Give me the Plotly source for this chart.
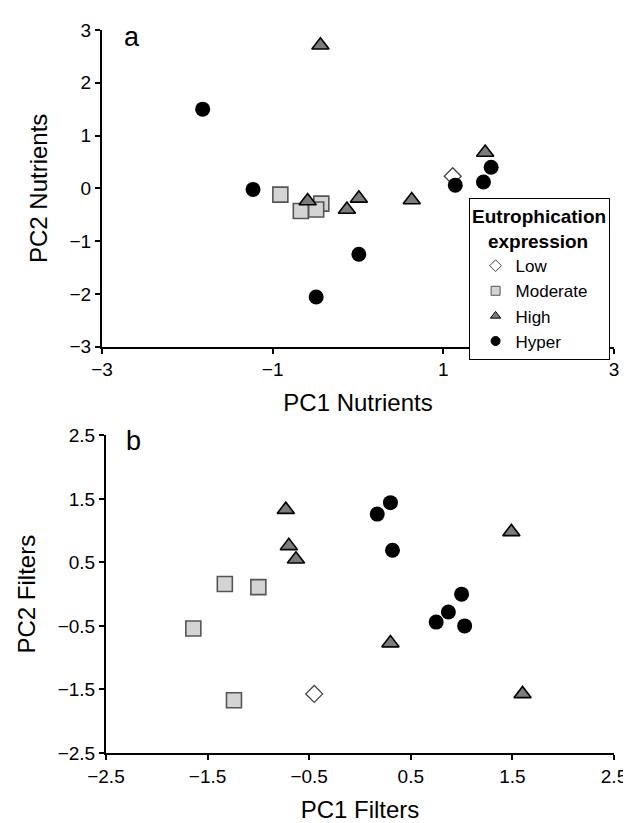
import plotly.graph_objects as go

# ---------------- data ----------------
categories = ["Low", "Moderate", "High", "Hyper"]

# Panel a: PC1 / PC2 Nutrients
a_low_x = [1.11]
a_low_y = [0.23]
a_mod_x = [-0.91, -0.43, -0.67, -0.49]
a_mod_y = [-0.12, -0.29, -0.43, -0.40]
a_high_x = [-0.44, -0.59, -0.13, 0.01, 0.63, 1.49]
a_high_y = [2.71, -0.24, -0.40, -0.19, -0.22, 0.68]
a_hyper_x = [-1.82, -1.23, 0.01, -0.49, 1.14, 1.47, 1.56]
a_hyper_y = [1.50, -0.02, -1.25, -2.06, 0.06, 0.12, 0.40]

# Panel b: PC1 / PC2 Filters
b_low_x = [-0.45]
b_low_y = [-1.57]
b_mod_x = [-1.33, -1.00, -1.64, -1.24]
b_mod_y = [0.16, 0.11, -0.54, -1.67]
b_high_x = [-0.73, -0.70, -0.63, 0.30, 1.49, 1.60]
b_high_y = [1.33, 0.76, 0.55, -0.77, 0.98, -1.57]
b_hyper_x = [0.30, 0.17, 0.32, 1.00, 0.87, 0.75, 1.03]
b_hyper_y = [1.44, 1.26, 0.69, 0.00, -0.28, -0.44, -0.50]

a_xticks = [-3, -1, 1, 3]
a_yticks = [-3, -2, -1, 0, 1, 2, 3]
b_ticks = [-2.5, -1.5, -0.5, 0.5, 1.5, 2.5]

# ---------------- styles ----------------
FONT = "Liberation Sans, Arial, Helvetica, sans-serif"
styles = {
    "Low": dict(symbol="diamond", color="white", line=dict(color="#444444", width=1.3)),
    "Moderate": dict(symbol="square", color="#d4d4d4", line=dict(color="#555555", width=1.6)),
    "High": dict(symbol="triangle-up", color="#7c7c7c", line=dict(color="black", width=1.6)),
    "Hyper": dict(symbol="circle", color="black", line=dict(color="black", width=0)),
}
sizes = {"Low": 13, "Moderate": 15, "High": 15, "Hyper": 15}

fig = go.Figure()

panel_a = {"Low": (a_low_x, a_low_y), "Moderate": (a_mod_x, a_mod_y),
           "High": (a_high_x, a_high_y), "Hyper": (a_hyper_x, a_hyper_y)}
panel_b = {"Low": (b_low_x, b_low_y), "Moderate": (b_mod_x, b_mod_y),
           "High": (b_high_x, b_high_y), "Hyper": (b_hyper_x, b_hyper_y)}

for cat in categories:
    x, y = panel_a[cat]
    st = styles[cat]
    fig.add_trace(go.Scatter(x=x, y=y, mode="markers", xaxis="x", yaxis="y",
                             showlegend=False,
                             marker=dict(symbol=st["symbol"], size=sizes[cat], color=st["color"], line=st["line"])))
for cat in categories:
    x, y = panel_b[cat]
    st = styles[cat]
    fig.add_trace(go.Scatter(x=x, y=y, mode="markers", xaxis="x2", yaxis="y2",
                             showlegend=False,
                             marker=dict(symbol=st["symbol"], size=sizes[cat], color=st["color"], line=st["line"])))
# legend entries (smaller symbols as in the reference)
for cat in categories:
    st = styles[cat]
    fig.add_trace(go.Scatter(x=[None], y=[None], mode="markers", xaxis="x", yaxis="y",
                             name=cat, showlegend=True,
                             marker=dict(symbol=st["symbol"], size=9, color=st["color"],
                                         line=dict(color=st["line"]["color"], width=1))))

axis_common = dict(showgrid=False, zeroline=False, showline=True, linecolor="black", linewidth=2,
                   ticks="outside", ticklen=5, tickwidth=1.5, tickcolor="black",
                   tickfont=dict(size=19, color="black", family=FONT), mirror=False)

fig.update_layout(
    width=631, height=823,
    margin=dict(l=94, r=20, t=21, b=60),
    paper_bgcolor="white", plot_bgcolor="white",
    font=dict(family=FONT, color="black"),
    xaxis=dict(domain=[0, 1], anchor="y", range=[-3, 3], tickvals=a_xticks,
               title=dict(text="PC1 Nutrients", font=dict(size=24)), **axis_common),
    yaxis=dict(domain=[0.562, 1], anchor="x", range=[-3, 3], tickvals=a_yticks,
               title=dict(text="PC2 Nutrients", font=dict(size=24)), **axis_common),
    xaxis2=dict(domain=[0.0077, 1], anchor="y2", range=[-2.5, 2.5], tickvals=b_ticks,
                title=dict(text="PC1 Filters", font=dict(size=24)), **axis_common),
    yaxis2=dict(domain=[0, 0.4394], anchor="x2", range=[-2.5, 2.5], tickvals=b_ticks,
                title=dict(text="PC2 Filters", font=dict(size=24)), **axis_common),
    legend=dict(x=0.716, y=0.768, xanchor="left", yanchor="top",
                bordercolor="black", borderwidth=1, bgcolor="white",
                font=dict(size=17, family=FONT, color="black"),
                title=dict(text="<b>Eutrophication<br>&nbsp;&nbsp;&nbsp;expression</b>", side="top center",
                           font=dict(size=19, family=FONT)),
                tracegroupgap=0, itemwidth=30, indentation=6),
    annotations=[
        dict(text="a", x=0.040, y=0.99, xref="paper", yref="paper", xanchor="left", yanchor="middle",
             showarrow=False, font=dict(size=27, family=FONT)),
        dict(text="b", x=0.042, y=0.432, xref="paper", yref="paper", xanchor="left", yanchor="middle",
             showarrow=False, font=dict(size=27, family=FONT)),
    ],
)

fig.write_html("out.html")
